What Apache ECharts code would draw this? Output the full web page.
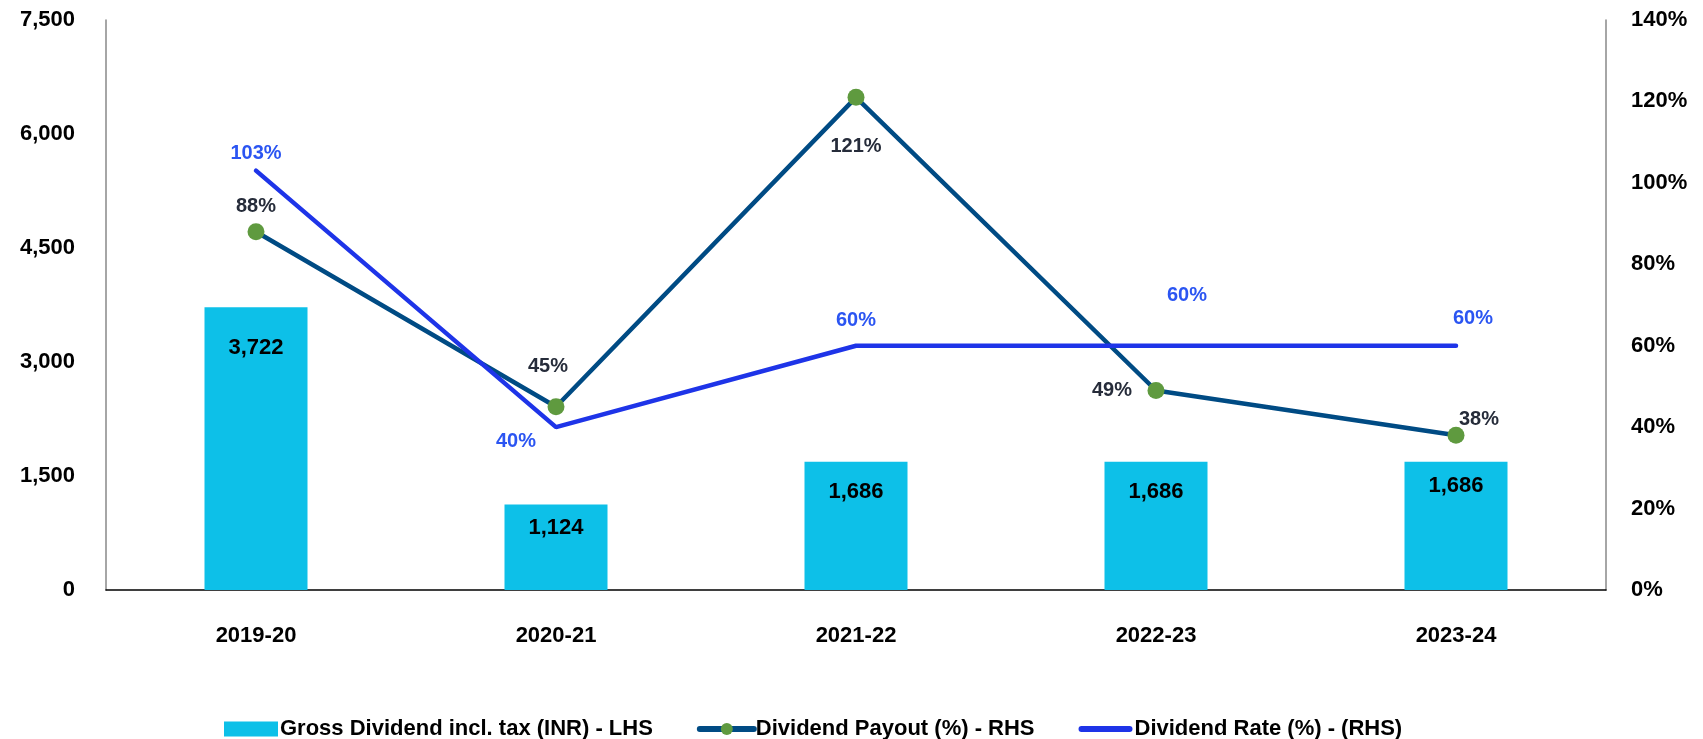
<!DOCTYPE html>
<html>
<head>
<meta charset="utf-8">
<script src="https://cdn.jsdelivr.net/npm/echarts@6/dist/echarts.min.js"></script>
<style>
html,body{margin:0;padding:0;background:#fff;}
#chart{width:1703px;height:739px;}
</style>
</head>
<body>
<div id="chart"></div>
<script>
const categories = ['2019-20', '2020-21', '2021-22', '2022-23', '2023-24'];
const grossDividend = [3722, 1124, 1686, 1686, 1686];
const dividendPayout = [88, 45, 121, 49, 38];
const dividendRate = [103, 40, 60, 60, 60];
const leftTicks = [0, 1500, 3000, 4500, 6000, 7500];
const rightTicks = [0, 20, 40, 60, 80, 100, 120, 140];

// label placement (offsets in px) – layout only
const barLabelOffsets = [[0, 25], [0, 7], [0, 14], [0, 14], [0, 8]];
const payoutLabelOffsets = [[0, -25], [-8, -40], [0, 49], [-44, 0], [23, -16]];
const rateLabelOffsets = [[0, -17], [-40, 14], [0, -25], [31, -50], [17, -27]];

const FONT = '"Liberation Sans", Arial, sans-serif';
const chart = echarts.init(document.getElementById('chart'));

const fmt = v => v.toLocaleString('en-US');

chart.setOption({
  animation: false,
  backgroundColor: '#ffffff',
  grid: { left: 106, right: 97, top: 20, bottom: 149, containLabel: false },
  legend: {
    left: 224, top: 718, padding: 0,
    itemWidth: 54, itemHeight: 15, itemGap: 44,
    lineStyle: { width: 6, cap: 'round' },
    textStyle: { fontFamily: FONT, fontWeight: 'bold', fontSize: 22, color: '#000', padding: [0, 0, 0, -3] },
    data: [
      { name: 'Gross Dividend incl. tax (INR) - LHS', icon: 'rect' },
      { name: 'Dividend Payout (%) - RHS' },
      { name: 'Dividend Rate (%) - (RHS)', icon: 'path://M3,0 L51,0 A3,3 0 0 1 51,6 L3,6 A3,3 0 0 1 3,0 Z' }
    ]
  },
  xAxis: {
    type: 'category',
    data: categories,
    axisLine: { lineStyle: { color: '#000', width: 1.5 } },
    axisTick: { show: false },
    axisLabel: { margin: 35, fontFamily: FONT, fontWeight: 'bold', fontSize: 22, color: '#000' }
  },
  yAxis: [
    {
      type: 'value', min: 0, max: 7500, interval: 1500,
      axisLine: { show: true, lineStyle: { color: '#888', width: 1.5 } },
      axisTick: { show: false },
      splitLine: { show: false },
      axisLabel: { margin: 31, fontFamily: FONT, fontWeight: 'bold', fontSize: 22, color: '#000',
        formatter: v => leftTicks.includes(v) ? fmt(v) : '' }
    },
    {
      type: 'value', min: 0, max: 140, interval: 20,
      axisLine: { show: true, lineStyle: { color: '#888', width: 1.5 } },
      axisTick: { show: false },
      splitLine: { show: false },
      axisLabel: { margin: 25, fontFamily: FONT, fontWeight: 'bold', fontSize: 22, color: '#000',
        formatter: v => rightTicks.includes(v) ? v + '%' : '' }
    }
  ],
  series: [
    {
      name: 'Gross Dividend incl. tax (INR) - LHS',
      type: 'bar',
      yAxisIndex: 0,
      barWidth: 103,
      itemStyle: { color: '#0DC0E8' },
      data: grossDividend.map((v, i) => ({
        value: v,
        label: { offset: barLabelOffsets[i] }
      })),
      label: {
        show: true, position: 'insideTop', distance: 5,
        fontFamily: FONT, fontWeight: 'bold', fontSize: 22, color: '#000',
        formatter: p => fmt(p.value)
      },
      z: 1
    },
    {
      name: 'Dividend Payout (%) - RHS',
      type: 'line',
      yAxisIndex: 1,
      symbol: 'circle',
      symbolSize: 17,
      lineStyle: { color: '#004B84', width: 4.5 },
      itemStyle: { color: '#5F9A3F', borderWidth: 0 },
      data: dividendPayout.map((v, i) => ({
        value: v,
        label: { offset: payoutLabelOffsets[i] }
      })),
      label: {
        show: true, position: 'inside',
        fontFamily: FONT, fontWeight: 'bold', fontSize: 20, color: '#262C3A',
        formatter: p => p.value + '%'
      },
      z: 3
    },
    {
      name: 'Dividend Rate (%) - (RHS)',
      type: 'line',
      yAxisIndex: 1,
      symbol: 'circle',
      symbolSize: 1,
      lineStyle: { color: '#1E34E8', width: 4.5, cap: 'round' },
      itemStyle: { color: '#1E34E8' },
      data: dividendRate.map((v, i) => ({
        value: v,
        label: { offset: rateLabelOffsets[i] }
      })),
      label: {
        show: true, position: 'inside',
        fontFamily: FONT, fontWeight: 'bold', fontSize: 20, color: '#2B55F2',
        formatter: p => p.value + '%'
      },
      z: 4
    }
  ]
});
</script>
</body>
</html>
